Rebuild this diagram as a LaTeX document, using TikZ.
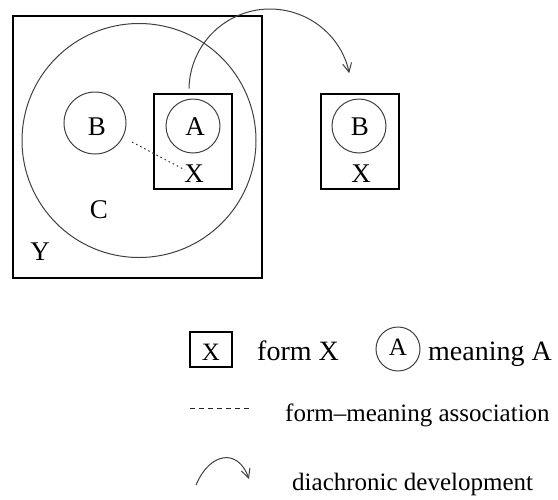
\documentclass[tikz,border=0pt]{standalone}
\usepackage{fontspec}
\setmainfont{Liberation Serif}
\usetikzlibrary{arrows.meta}
\begin{document}
\begin{tikzpicture}[x=1pt,y=-1pt,
  box/.style={draw=black, line width=1.2pt, inner sep=0pt, rectangle},
  ring/.style={draw=black!75, line width=1pt, circle, inner sep=0pt},
  lbl/.style={anchor=base, inner sep=0pt, font=\fontsize{27}{30}\selectfont},
  legbig/.style={anchor=base west, inner sep=0pt, font=\fontsize{28}{32}\selectfont},
  legsmall/.style={anchor=base west, inner sep=0pt, font=\fontsize{25}{30}\selectfont},
  assoc/.style={draw=black!80, line width=1pt, dash pattern=on 1.6pt off 3pt},
  assocleg/.style={draw=black!85, line width=1pt, dash pattern=on 4.5pt off 4.5pt},
  dev/.style={draw=black!75, line width=1pt, -{Straight Barb[length=9pt,width=9pt]}}
]
\useasboundingbox (0,0) rectangle (558,499);

% main diagram
\node[box, minimum width=249pt, minimum height=262pt] (Ybox) at (137.5,147) {};
\node[ring, minimum size=234pt] (Ccirc) at (139,140.5) {};
\node[ring, minimum size=62pt] (Bcirc) at (95,123) {};
\node[box, minimum width=78pt, minimum height=95pt] (AXbox) at (193,141.5) {};
\node[ring, minimum size=54pt] (Acirc) at (193,126) {};

\node[lbl] (Btxt) at (97,135) {B};
\node[lbl] (Atxt) at (195,135) {A};
\node[lbl] (Xtxt) at (194,182) {X};
\node[lbl] (Ctxt) at (99,218) {C};
\node[lbl] (Ytxt) at (40,260) {Y};

% right box
\node[box, minimum width=78pt, minimum height=95pt] (BXbox) at (360,141.5) {};
\node[ring, minimum size=54pt] (B2circ) at (359,126) {};
\node[lbl] (B2txt) at (360,135) {B};
\node[lbl] (X2txt) at (361,182) {X};

% association and development
\coordinate (d1) at (132,142);
\coordinate (d2) at (185,170);
\draw[assoc] (d1) -- (d2);
\coordinate (a1) at (189,88.6);
\draw[dev] (a1) arc[start angle=181, end angle=348, radius=81];

% legend
\node[box, minimum width=42pt, minimum height=35pt] (legbox) at (211,349.5) {};
\node[anchor=base, inner sep=0pt, font=\fontsize{25}{30}\selectfont] (legX) at (211,360) {X};
\node[legbig] (formX) at (257,360) {form X};
\node[ring, minimum size=44pt] (legcirc) at (398,349) {};
\node[anchor=base, inner sep=0pt, font=\fontsize{25}{30}\selectfont] (legA) at (398,355) {A};
\node[legbig] (meanA) at (428,360) {meaning A};

\coordinate (ld1) at (190,408);
\coordinate (ld2) at (253,408);
\draw[assocleg] (ld1) -- (ld2);
\node[legsmall] (assoctxt) at (285,421) {form–meaning association};

\coordinate (lc1) at (196,485);
\coordinate (lc2) at (249,479);
\draw[dev] (lc1) .. controls (210,452) and (238,448) .. (lc2);
\node[legsmall] (devtxt) at (292,490) {diachronic development};
\end{tikzpicture}
\end{document}
